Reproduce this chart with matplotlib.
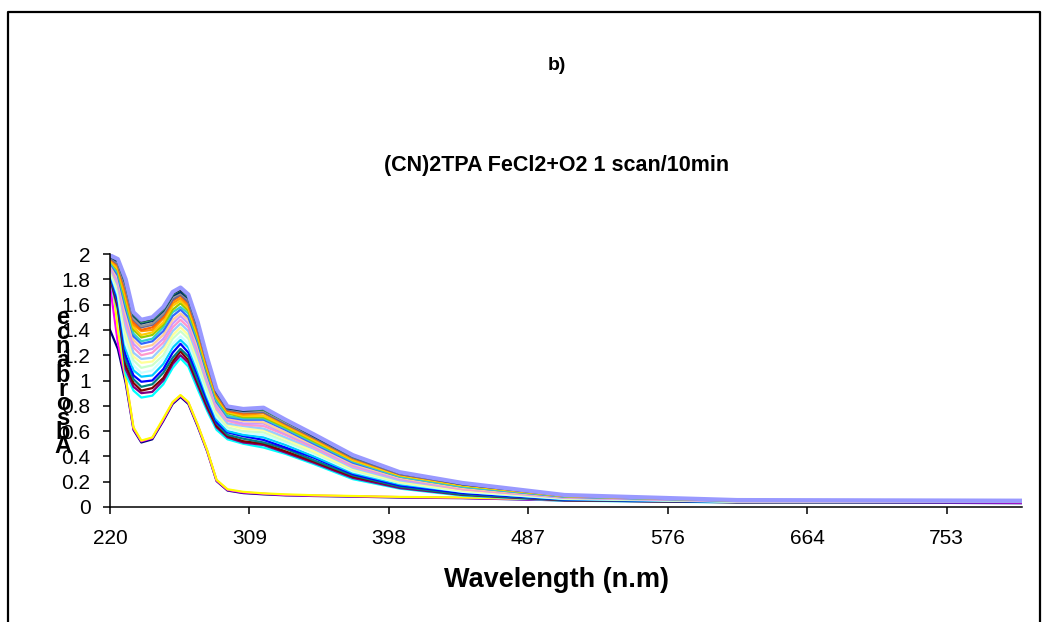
import matplotlib
matplotlib.use("Agg")
import matplotlib.pyplot as plt
from matplotlib.lines import Line2D

plt.rcParams['font.family'] = ['Liberation Sans', 'DejaVu Sans']

# wavelength grid (nm)
wavelength = [220, 225, 230, 235, 240, 247, 254, 260, 265, 270, 276, 282,
              288, 295, 305, 318, 332, 350, 375, 405, 445, 510, 620, 802]

# absorbance of each scan, first scan (bottom) to last scan (top)
scan01 = [1.40, 1.25, 0.98, 0.61, 0.51, 0.535, 0.68, 0.815, 0.87, 0.815, 0.635, 0.44, 0.205, 0.13, 0.11, 0.10, 0.092, 0.087, 0.082, 0.075, 0.07, 0.052, 0.04, 0.03]
scan02 = [1.75, 1.30, 1.01, 0.62, 0.52, 0.545, 0.69, 0.825, 0.88, 0.825, 0.645, 0.445, 0.21, 0.135, 0.115, 0.105, 0.095, 0.09, 0.085, 0.078, 0.072, 0.055, 0.043, 0.035]
scan03 = [1.95, 1.40, 1.02, 0.63, 0.525, 0.55, 0.70, 0.83, 0.885, 0.83, 0.65, 0.45, 0.215, 0.14, 0.12, 0.108, 0.10, 0.093, 0.087, 0.08, 0.075, 0.058, 0.045, 0.04]
scan04 = [1.80, 1.55, 1.05, 0.92, 0.865, 0.88, 0.97, 1.10, 1.175, 1.11, 0.93, 0.76, 0.61, 0.535, 0.50, 0.47, 0.42, 0.34, 0.22, 0.145, 0.09, 0.05, 0.036, 0.04]
scan05 = [1.81, 1.57, 1.09, 0.95, 0.90, 0.91, 1.00, 1.13, 1.20, 1.14, 0.96, 0.78, 0.63, 0.55, 0.51, 0.49, 0.43, 0.35, 0.23, 0.15, 0.095, 0.052, 0.037, 0.04]
scan06 = [1.82, 1.59, 1.12, 0.98, 0.92, 0.94, 1.02, 1.15, 1.23, 1.16, 0.98, 0.80, 0.64, 0.56, 0.52, 0.50, 0.44, 0.36, 0.24, 0.16, 0.10, 0.054, 0.038, 0.041]
scan07 = [1.83, 1.61, 1.16, 1.01, 0.95, 0.97, 1.06, 1.18, 1.25, 1.19, 1.00, 0.82, 0.66, 0.57, 0.54, 0.51, 0.46, 0.37, 0.25, 0.16, 0.10, 0.056, 0.039, 0.041]
scan08 = [1.84, 1.63, 1.20, 1.04, 0.99, 1.00, 1.09, 1.22, 1.29, 1.22, 1.04, 0.84, 0.67, 0.59, 0.56, 0.53, 0.47, 0.39, 0.26, 0.17, 0.11, 0.059, 0.040, 0.042]
scan09 = [1.85, 1.66, 1.25, 1.08, 1.03, 1.04, 1.13, 1.26, 1.32, 1.26, 1.07, 0.87, 0.69, 0.60, 0.57, 0.55, 0.49, 0.40, 0.27, 0.18, 0.12, 0.062, 0.041, 0.043]
scan10 = [1.86, 1.68, 1.29, 1.12, 1.06, 1.08, 1.17, 1.29, 1.35, 1.29, 1.10, 0.89, 0.71, 0.62, 0.59, 0.57, 0.51, 0.42, 0.28, 0.19, 0.12, 0.064, 0.042, 0.043]
scan11 = [1.87, 1.71, 1.34, 1.16, 1.10, 1.12, 1.20, 1.33, 1.39, 1.33, 1.13, 0.92, 0.73, 0.63, 0.60, 0.59, 0.52, 0.43, 0.29, 0.19, 0.13, 0.067, 0.043, 0.044]
scan12 = [1.88, 1.73, 1.38, 1.19, 1.14, 1.15, 1.24, 1.36, 1.42, 1.36, 1.16, 0.95, 0.75, 0.65, 0.62, 0.61, 0.54, 0.44, 0.30, 0.20, 0.13, 0.070, 0.044, 0.044]
scan13 = [1.89, 1.75, 1.42, 1.22, 1.17, 1.18, 1.27, 1.39, 1.45, 1.39, 1.19, 0.97, 0.77, 0.66, 0.64, 0.62, 0.55, 0.46, 0.31, 0.21, 0.14, 0.072, 0.045, 0.045]
scan14 = [1.90, 1.77, 1.46, 1.26, 1.20, 1.22, 1.30, 1.42, 1.48, 1.42, 1.22, 0.99, 0.78, 0.68, 0.65, 0.64, 0.57, 0.47, 0.32, 0.22, 0.14, 0.074, 0.046, 0.045]
scan15 = [1.91, 1.79, 1.49, 1.29, 1.23, 1.25, 1.33, 1.45, 1.51, 1.45, 1.24, 1.01, 0.80, 0.69, 0.66, 0.66, 0.58, 0.48, 0.33, 0.22, 0.15, 0.077, 0.047, 0.046]
scan16 = [1.92, 1.81, 1.53, 1.32, 1.26, 1.28, 1.36, 1.48, 1.53, 1.48, 1.27, 1.03, 0.82, 0.70, 0.68, 0.67, 0.59, 0.49, 0.34, 0.23, 0.15, 0.079, 0.048, 0.046]
scan17 = [1.93, 1.83, 1.57, 1.35, 1.29, 1.31, 1.39, 1.51, 1.56, 1.50, 1.30, 1.05, 0.83, 0.71, 0.69, 0.69, 0.61, 0.50, 0.35, 0.24, 0.16, 0.081, 0.049, 0.047]
scan18 = [1.94, 1.85, 1.60, 1.37, 1.31, 1.33, 1.42, 1.54, 1.58, 1.53, 1.32, 1.07, 0.84, 0.72, 0.70, 0.70, 0.62, 0.51, 0.36, 0.24, 0.16, 0.083, 0.050, 0.047]
scan19 = [1.95, 1.87, 1.63, 1.40, 1.34, 1.36, 1.44, 1.56, 1.61, 1.55, 1.34, 1.08, 0.86, 0.74, 0.71, 0.71, 0.63, 0.52, 0.37, 0.25, 0.17, 0.085, 0.051, 0.048]
scan20 = [1.95, 1.88, 1.66, 1.42, 1.36, 1.38, 1.46, 1.59, 1.63, 1.57, 1.36, 1.10, 0.87, 0.75, 0.72, 0.72, 0.64, 0.53, 0.37, 0.25, 0.17, 0.086, 0.051, 0.048]
scan21 = [1.96, 1.90, 1.68, 1.44, 1.39, 1.40, 1.49, 1.61, 1.65, 1.59, 1.38, 1.12, 0.88, 0.76, 0.73, 0.74, 0.65, 0.54, 0.38, 0.26, 0.18, 0.088, 0.052, 0.048]
scan22 = [1.97, 1.91, 1.71, 1.46, 1.40, 1.42, 1.50, 1.63, 1.67, 1.61, 1.39, 1.13, 0.89, 0.76, 0.74, 0.75, 0.66, 0.55, 0.39, 0.26, 0.18, 0.089, 0.053, 0.049]
scan23 = [1.97, 1.92, 1.73, 1.48, 1.42, 1.44, 1.52, 1.64, 1.68, 1.62, 1.41, 1.14, 0.90, 0.77, 0.75, 0.75, 0.66, 0.55, 0.39, 0.26, 0.18, 0.091, 0.053, 0.049]
scan24 = [1.98, 1.93, 1.74, 1.49, 1.43, 1.45, 1.53, 1.66, 1.69, 1.64, 1.42, 1.15, 0.91, 0.78, 0.75, 0.76, 0.67, 0.56, 0.40, 0.27, 0.18, 0.092, 0.054, 0.049]
scan25 = [1.98, 1.94, 1.76, 1.51, 1.45, 1.47, 1.55, 1.67, 1.70, 1.65, 1.43, 1.16, 0.91, 0.78, 0.76, 0.77, 0.68, 0.56, 0.40, 0.27, 0.18, 0.093, 0.054, 0.049]
scan26 = [1.99, 1.95, 1.77, 1.52, 1.46, 1.48, 1.56, 1.68, 1.72, 1.66, 1.44, 1.17, 0.92, 0.79, 0.77, 0.77, 0.68, 0.57, 0.40, 0.27, 0.19, 0.093, 0.054, 0.050]
scan27 = [1.99, 1.95, 1.79, 1.53, 1.47, 1.49, 1.57, 1.69, 1.72, 1.67, 1.45, 1.17, 0.92, 0.79, 0.77, 0.78, 0.69, 0.57, 0.41, 0.27, 0.19, 0.094, 0.055, 0.050]
scan28 = [1.99, 1.96, 1.80, 1.54, 1.48, 1.50, 1.58, 1.70, 1.735, 1.68, 1.46, 1.18, 0.93, 0.795, 0.775, 0.785, 0.69, 0.575, 0.41, 0.275, 0.19, 0.095, 0.055, 0.050]

scans = [scan01, scan02, scan03, scan04, scan05, scan06, scan07, scan08, scan09, scan10,
         scan11, scan12, scan13, scan14, scan15, scan16, scan17, scan18, scan19, scan20,
         scan21, scan22, scan23, scan24, scan25, scan26, scan27, scan28]

# excel 2003 automatic line colours
colors = ['#000080', '#FF00FF', '#FFFF00', '#00FFFF', '#800080', '#800000', '#008080', '#0000FF',
          '#00CCFF', '#CCFFFF', '#CCFFCC', '#FFFF99', '#99CCFF', '#FF99CC', '#CC99FF', '#FFCC99',
          '#3366FF', '#33CCCC', '#99CC00', '#FFCC00', '#FF9900', '#FF6600', '#666699', '#969696',
          '#003366', '#339966', '#000000', '#9999FF']

xtick_pos = [220, 309, 398, 487, 576, 665, 754]
xtick_lab = ['220', '309', '398', '487', '576', '664', '753']
ytick_pos = [0, 0.2, 0.4, 0.6, 0.8, 1.0, 1.2, 1.4, 1.6, 1.8, 2.0]
ytick_lab = ['0', '0.2', '0.4', '0.6', '0.8', '1', '1.2', '1.4', '1.6', '1.8', '2']

W, H = 1045, 622
fig = plt.figure(figsize=(W / 100, H / 100), dpi=100)
ax = fig.add_axes([110 / W, 115 / H, 912 / W, 253 / H])

for i, (s, c) in enumerate(zip(scans, colors)):
    last = i == len(scans) - 1
    ax.plot(wavelength, s, color=c, lw=3.0 if last else 1.6, solid_joinstyle='round')

ax.set_xlim(220, 802)
ax.set_ylim(0, 2)
ax.set_xticks(xtick_pos)
ax.set_xticklabels(xtick_lab)
ax.set_yticks(ytick_pos)
ax.set_yticklabels(ytick_lab)
ax.tick_params(direction='out', length=5, width=1.1, labelsize=15)
ax.tick_params(axis='x', pad=11)
ax.tick_params(axis='y', pad=9)
for side in ['top', 'right']:
    ax.spines[side].set_visible(False)
for side in ['left', 'bottom']:
    ax.spines[side].set_linewidth(1.1)

fig.text(557 / W, 1 - 66 / H, 'b)', ha='center', va='center', fontsize=14, fontweight='bold')
fig.text(557 / W, 1 - 165 / H, '(CN)2TPA FeCl2+O2 1 scan/10min', ha='center', va='center',
         fontsize=15.5, fontweight='bold')
fig.text(557 / W, 1 - 580 / H, 'Wavelength (n.m)', ha='center', va='center',
         fontsize=19.5, fontweight='bold')

# y label drawn as stacked letters, like the excel export
for k, ch in enumerate(reversed('Absorbance')):
    fig.text(63 / W, 1 - (318 + k * 14.3) / H, ch, ha='center', va='center',
             fontsize=17, fontweight='bold')

# chart border
fig.add_artist(Line2D([7.5 / W, 7.5 / W, 1040 / W, 1040 / W], [0, 1 - 11.5 / H, 1 - 11.5 / H, 0],
                      color='black', lw=1.6))

fig.savefig('out.png', dpi=100)
